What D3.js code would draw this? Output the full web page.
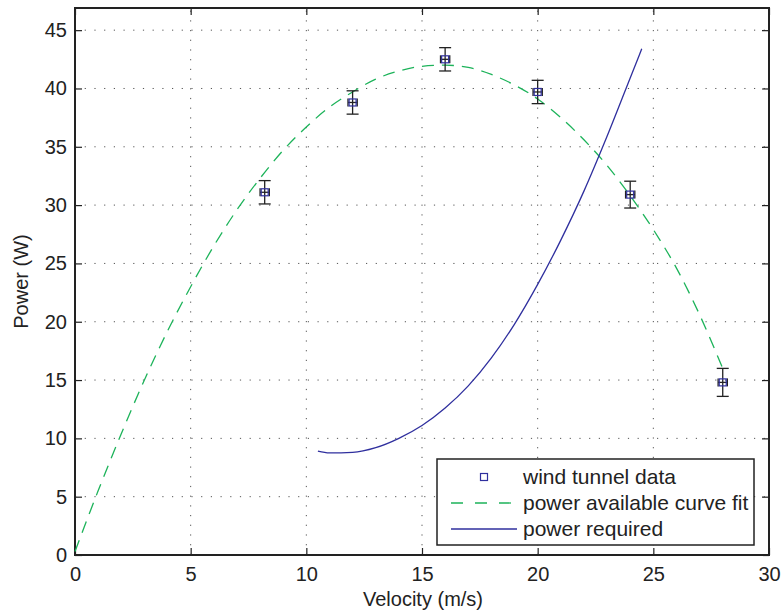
<!DOCTYPE html>
<html>
<head>
<meta charset="utf-8">
<script src="https://cdn.jsdelivr.net/npm/d3@7"></script>
<style>
  body { margin: 0; background: #fff; }
  text { font-family: "Liberation Sans", Arial, sans-serif; fill: #222; }
</style>
</head>
<body>
<svg width="782" height="614"></svg>
<script>
// wind tunnel measurements
var dataV = [8.2, 12, 16, 20, 24, 28];
var dataP = [31.1, 38.8, 42.5, 39.7, 30.9, 14.8];
var dataPErr = [1.0, 1.0, 1.0, 1.0, 1.15, 1.2];
var dataVErr = [0.2, 0.2, 0.2, 0.2, 0.2, 0.2];

// power available curve fit
var fitV = [0, 1, 2, 3, 4, 5, 6, 7, 8, 9, 10, 11, 12, 13, 14, 15, 16, 17, 18, 19, 20, 21, 22, 23, 24, 25, 26, 27, 28];
var fitP = [0.3, 5.5, 10.4, 15, 19.2, 23, 26.5, 29.6, 32.3, 34.7, 36.7, 38.4, 39.7, 40.8, 41.5, 41.9, 42.0, 41.8, 41.2, 40.3, 39.1, 37.5, 35.6, 33.4, 30.8, 27.9, 24.6, 20.6, 16.0];

// power required
var reqV = [10.5, 11, 12, 13, 14, 15, 16, 17, 18, 19, 20, 21, 22, 23, 24, 24.5];
var reqP = [8.9, 8.75, 8.8, 9.2, 10.0, 11.1, 12.6, 14.5, 16.9, 19.8, 23.2, 27.0, 31.2, 35.9, 40.9, 43.4];

var xTicks = [0, 5, 10, 15, 20, 25, 30];
var yTicks = [0, 5, 10, 15, 20, 25, 30, 35, 40, 45];

var legendLabels = ["wind tunnel data", "power available curve fit", "power required"];

var mLeft = 75, mRight = 769, mTop = 8, mBottom = 555;
var green = "#1db35a", blue = "#2f2f9e", frame = "#222";

var svg = d3.select("svg");

var x = d3.scaleLinear().domain([0, 30]).range([mLeft, mRight]);
var y = d3.scaleLinear().domain([0, 46.9]).range([mBottom, mTop]);

// grid
svg.append("g").selectAll("line")
    .data(xTicks.slice(1, -1))
    .enter().append("line")
    .attr("x1", function(d){ return x(d); })
    .attr("x2", function(d){ return x(d); })
    .attr("y1", mBottom).attr("y2", mTop)
    .attr("stroke", "#555").attr("stroke-width", 1)
    .attr("stroke-dasharray", "1.2 8.5");
svg.append("g").selectAll("line")
    .data(yTicks.slice(1))
    .enter().append("line")
    .attr("y1", function(d){ return y(d); })
    .attr("y2", function(d){ return y(d); })
    .attr("x1", mLeft).attr("x2", mRight)
    .attr("stroke", "#555").attr("stroke-width", 1)
    .attr("stroke-dasharray", "1.2 8.5");

// axes (ticks inward on all sides)
svg.append("g")
    .attr("transform", "translate(0," + mBottom + ")")
    .call(d3.axisBottom(x).tickValues(xTicks).tickSize(-7).tickPadding(12).tickSizeOuter(0))
    .call(function(g){ g.select(".domain").remove(); });
svg.append("g")
    .attr("transform", "translate(" + mLeft + ",0)")
    .call(d3.axisLeft(y).tickValues(yTicks).tickSize(-7).tickPadding(8).tickSizeOuter(0))
    .call(function(g){ g.select(".domain").remove(); });
svg.append("g")
    .attr("transform", "translate(0," + mTop + ")")
    .call(d3.axisTop(x).tickValues(xTicks).tickSize(-7).tickFormat(""))
    .call(function(g){ g.select(".domain").remove(); });
svg.append("g")
    .attr("transform", "translate(" + mRight + ",0)")
    .call(d3.axisRight(y).tickValues(yTicks).tickSize(-7).tickFormat(""))
    .call(function(g){ g.select(".domain").remove(); });

svg.selectAll(".tick line").attr("stroke", frame).attr("stroke-width", 1.2);
svg.selectAll(".tick text")
    .attr("font-size", "20px")
    .attr("font-family", "'Liberation Sans', Arial, sans-serif")
    .attr("fill", "#222");

svg.append("rect")
    .attr("x", mLeft).attr("y", mTop)
    .attr("width", mRight - mLeft).attr("height", mBottom - mTop)
    .attr("fill", "none").attr("stroke", frame).attr("stroke-width", 2);

// curves
var line = d3.line()
    .x(function(d){ return x(d[0]); })
    .y(function(d){ return y(d[1]); })
    .curve(d3.curveMonotoneX);

svg.append("path")
    .datum(d3.zip(fitV, fitP))
    .attr("d", line)
    .attr("fill", "none").attr("stroke", green)
    .attr("stroke-width", 1.3).attr("stroke-dasharray", "12 8");

svg.append("path")
    .datum(d3.zip(reqV, reqP))
    .attr("d", line)
    .attr("fill", "none").attr("stroke", blue)
    .attr("stroke-width", 1.3);

// error bars and markers
var pts = svg.append("g").selectAll("g")
    .data(d3.range(dataV.length))
    .enter().append("g");

pts.append("line")
    .attr("x1", function(i){ return x(dataV[i]); })
    .attr("x2", function(i){ return x(dataV[i]); })
    .attr("y1", function(i){ return y(dataP[i] + dataPErr[i]); })
    .attr("y2", function(i){ return y(dataP[i] - dataPErr[i]); })
    .attr("stroke", frame).attr("stroke-width", 1.3);
[1, -1].forEach(function(s){
    pts.append("line")
        .attr("x1", function(i){ return x(dataV[i]) - 6; })
        .attr("x2", function(i){ return x(dataV[i]) + 6; })
        .attr("y1", function(i){ return y(dataP[i] + s * dataPErr[i]); })
        .attr("y2", function(i){ return y(dataP[i] + s * dataPErr[i]); })
        .attr("stroke", frame).attr("stroke-width", 1.3);
    pts.append("line")
        .attr("x1", function(i){ return x(dataV[i] + s * dataVErr[i]); })
        .attr("x2", function(i){ return x(dataV[i] + s * dataVErr[i]); })
        .attr("y1", function(i){ return y(dataP[i]) - 4; })
        .attr("y2", function(i){ return y(dataP[i]) + 4; })
        .attr("stroke", frame).attr("stroke-width", 1.3);
});
pts.append("line")
    .attr("x1", function(i){ return x(dataV[i] - dataVErr[i]); })
    .attr("x2", function(i){ return x(dataV[i] + dataVErr[i]); })
    .attr("y1", function(i){ return y(dataP[i]); })
    .attr("y2", function(i){ return y(dataP[i]); })
    .attr("stroke", frame).attr("stroke-width", 1.3);
pts.append("rect")
    .attr("x", function(i){ return x(dataV[i]) - 3.5; })
    .attr("y", function(i){ return y(dataP[i]) - 3.5; })
    .attr("width", 7).attr("height", 7)
    .attr("fill", "none").attr("stroke", blue).attr("stroke-width", 1.2);

// axis labels
svg.append("text")
    .attr("x", (mLeft + mRight) / 2 + 1).attr("y", 606)
    .attr("text-anchor", "middle").attr("font-size", "20px")
    .text("Velocity (m/s)");
svg.append("text")
    .attr("transform", "translate(28," + ((mTop + mBottom) / 2) + ") rotate(-90)")
    .attr("text-anchor", "middle").attr("font-size", "20px")
    .text("Power (W)");

// legend
var lg = svg.append("g").attr("transform", "translate(437,459)");
lg.append("rect")
    .attr("width", 317).attr("height", 86)
    .attr("fill", "#fff").attr("stroke", frame).attr("stroke-width", 1.5);
var rowY = [18, 44, 70];
lg.selectAll("text.lab")
    .data(legendLabels)
    .enter().append("text")
    .attr("class", "lab")
    .attr("x", 86)
    .attr("y", function(d, i){ return rowY[i] + 7; })
    .attr("font-size", "21px")
    .text(function(d){ return d; });
lg.append("rect")
    .attr("x", 47 - 3.5).attr("y", rowY[0] - 3.5)
    .attr("width", 7).attr("height", 7)
    .attr("fill", "none").attr("stroke", blue).attr("stroke-width", 1.2);
lg.append("line")
    .attr("x1", 14).attr("x2", 80).attr("y1", rowY[1]).attr("y2", rowY[1])
    .attr("stroke", green).attr("stroke-width", 1.3).attr("stroke-dasharray", "12 12");
lg.append("line")
    .attr("x1", 14).attr("x2", 80).attr("y1", rowY[2]).attr("y2", rowY[2])
    .attr("stroke", blue).attr("stroke-width", 1.3);
</script>
</body>
</html>
